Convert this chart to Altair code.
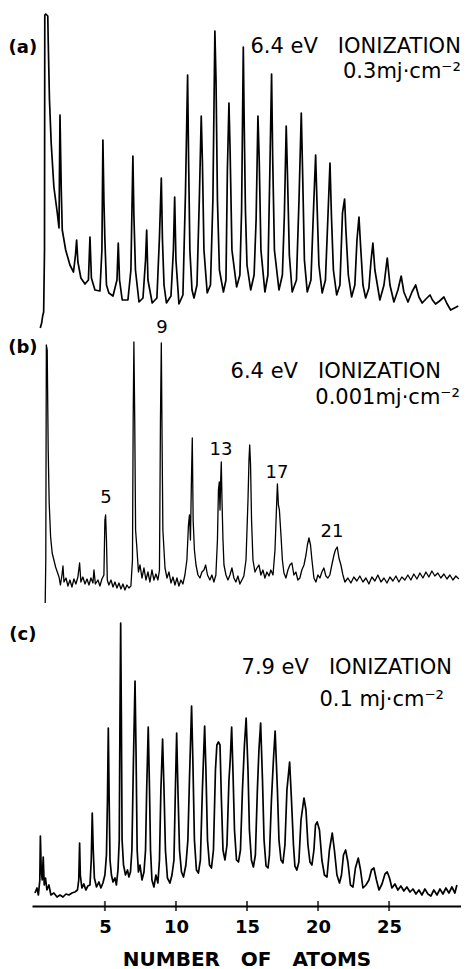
import altair as alt
import pandas as pd

# x axis: number of atoms (shared by the three panels)
X_MIN, X_MAX = -0.13, 30.06
TICKS = [5, 10, 15, 20, 25]

# ---------- panel (a): 6.4 eV, 0.3 mJ/cm2  (n, signal) ----------
A_TRACE = [
    (0.45, 2), (0.55, 7), (0.62, 14), (0.69, 18), (0.75, 80), (0.77, 315), (0.84, 316), (0.98, 314),
    (1.01, 290), (1.10, 230), (1.22, 187), (1.41, 143), (1.65, 117), (1.77, 102), (1.80, 150), (1.84, 215),
    (1.89, 173), (1.93, 140), (2.00, 100), (2.24, 80), (2.54, 65), (2.79, 58), (2.93, 75), (3.01, 90),
    (3.10, 68), (3.31, 52), (3.60, 46), (3.84, 50), (3.95, 93), (4.05, 52), (4.30, 40), (4.65, 39),
    (4.79, 80), (4.86, 190), (4.93, 130), (5.00, 90), (5.11, 45), (5.28, 37), (5.57, 34), (5.85, 50),
    (5.94, 87), (6.03, 50), (6.22, 30), (6.62, 30), (6.83, 60), (6.97, 174), (7.04, 115), (7.15, 60),
    (7.40, 28), (7.68, 32), (7.86, 70), (7.94, 100), (8.03, 50), (8.33, 27), (8.66, 32), (8.84, 93),
    (8.97, 152), (9.05, 90), (9.16, 45), (9.33, 27), (9.65, 34), (9.82, 80), (9.91, 133), (10.00, 70),
    (10.21, 26), (10.49, 35), (10.67, 137), (10.82, 255), (10.89, 170), (10.98, 80), (11.13, 40), (11.27, 32),
    (11.48, 45), (11.65, 133), (11.78, 214), (11.86, 170), (11.97, 80), (12.20, 37), (12.43, 45), (12.60, 130),
    (12.74, 299), (12.82, 250), (12.92, 130), (13.06, 60), (13.34, 38), (13.52, 50), (13.62, 160), (13.73, 227),
    (13.81, 180), (13.94, 80), (14.27, 43), (14.50, 55), (14.62, 120), (14.74, 283), (14.80, 210), (14.89, 120),
    (15.00, 65), (15.26, 40), (15.50, 55), (15.64, 110), (15.77, 214), (15.86, 170), (15.98, 80), (16.26, 38),
    (16.47, 55), (16.61, 160), (16.73, 256), (16.81, 170), (16.93, 80), (17.25, 40), (17.49, 55), (17.63, 115),
    (17.76, 204), (17.84, 160), (17.98, 75), (18.18, 38), (18.48, 50), (18.66, 130), (18.82, 217), (18.91, 160),
    (19.04, 70), (19.24, 38), (19.50, 50), (19.68, 120), (19.83, 175), (19.92, 130), (20.06, 65), (20.29, 37),
    (20.52, 50), (20.70, 115), (20.84, 167), (20.94, 115), (21.08, 60), (21.31, 35), (21.54, 45), (21.72, 117),
    (21.87, 131), (21.96, 100), (22.13, 55), (22.36, 33), (22.59, 45), (22.74, 90), (22.88, 113), (22.99, 85),
    (23.16, 45), (23.35, 32), (23.58, 42), (23.72, 68), (23.86, 87), (24.00, 60), (24.35, 30), (24.64, 45),
    (24.87, 72), (25.06, 45), (25.34, 28), (25.62, 40), (25.85, 54), (26.04, 38), (26.33, 28), (26.61, 38),
    (26.87, 45), (27.10, 33), (27.33, 27), (27.59, 31), (27.88, 35), (28.05, 30), (28.27, 26), (28.55, 29),
    (28.86, 33), (29.05, 27), (29.33, 20), (29.60, 22), (29.87, 24),
]

# ---------- panel (b): 6.4 eV, 0.001 mJ/cm2 ----------
B_TRACE = [
    (0.80, 7), (0.84, 50), (0.88, 265), (0.94, 260), (1.01, 160), (1.08, 107), (1.18, 73), (1.29, 57),
    (1.53, 43), (1.77, 33), (1.87, 25), (1.98, 35), (2.05, 44), (2.12, 28), (2.26, 32), (2.40, 24),
    (2.54, 30), (2.68, 23), (2.82, 31), (2.96, 26), (3.10, 33), (3.22, 47), (3.31, 28), (3.45, 33),
    (3.60, 26), (3.74, 31), (3.88, 25), (4.02, 32), (4.16, 27), (4.23, 40), (4.33, 26), (4.51, 30),
    (4.65, 24), (4.79, 31), (4.93, 35), (5.00, 90), (5.05, 95), (5.11, 70), (5.17, 30), (5.28, 25),
    (5.43, 30), (5.57, 23), (5.71, 28), (5.85, 22), (5.99, 27), (6.13, 21), (6.27, 26), (6.41, 20),
    (6.55, 25), (6.69, 22), (6.83, 24), (6.94, 50), (6.99, 190), (7.04, 268), (7.10, 190), (7.16, 80),
    (7.26, 60), (7.36, 38), (7.47, 45), (7.61, 32), (7.75, 42), (7.89, 30), (8.03, 38), (8.17, 28),
    (8.31, 40), (8.45, 30), (8.59, 36), (8.73, 30), (8.84, 40), (8.91, 190), (8.97, 267), (9.03, 160),
    (9.08, 80), (9.23, 42), (9.37, 32), (9.51, 38), (9.65, 27), (9.79, 33), (9.93, 25), (10.07, 32),
    (10.21, 24), (10.35, 30), (10.49, 26), (10.63, 35), (10.77, 50), (10.88, 85), (10.95, 95), (11.02, 70),
    (11.09, 130), (11.15, 172), (11.21, 90), (11.30, 60), (11.41, 45), (11.55, 35), (11.69, 32), (11.83, 38),
    (11.97, 40), (12.09, 45), (12.22, 35), (12.39, 30), (12.53, 35), (12.67, 28), (12.81, 35), (12.92, 70),
    (12.99, 120), (13.05, 128), (13.10, 100), (13.15, 130), (13.19, 148), (13.24, 110), (13.31, 70), (13.38, 45),
    (13.52, 35), (13.66, 30), (13.80, 35), (13.94, 42), (14.08, 32), (14.22, 28), (14.36, 34), (14.50, 26),
    (14.64, 30), (14.78, 34), (14.93, 50), (15.07, 110), (15.14, 150), (15.19, 165), (15.25, 145), (15.32, 90),
    (15.42, 50), (15.56, 38), (15.70, 42), (15.84, 45), (15.98, 35), (16.12, 40), (16.26, 32), (16.40, 38),
    (16.55, 34), (16.68, 40), (16.83, 35), (16.97, 60), (17.07, 100), (17.14, 126), (17.21, 105), (17.28, 100),
    (17.39, 75), (17.49, 50), (17.60, 37), (17.74, 32), (17.88, 40), (18.02, 45), (18.16, 47), (18.30, 35),
    (18.44, 38), (18.58, 30), (18.72, 32), (18.86, 40), (19.01, 45), (19.15, 55), (19.25, 65), (19.36, 72),
    (19.47, 65), (19.57, 50), (19.71, 32), (19.85, 28), (19.99, 35), (20.13, 32), (20.27, 38), (20.41, 42),
    (20.55, 34), (20.69, 32), (20.83, 35), (20.97, 45), (21.12, 55), (21.22, 60), (21.35, 63), (21.47, 52),
    (21.61, 45), (21.75, 35), (21.89, 28), (22.10, 32), (22.31, 27), (22.52, 33), (22.73, 29), (22.94, 34),
    (23.16, 28), (23.37, 32), (23.58, 26), (23.79, 33), (24.00, 29), (24.21, 35), (24.43, 28), (24.64, 32),
    (24.85, 27), (25.06, 33), (25.27, 29), (25.48, 34), (25.69, 28), (25.90, 33), (26.11, 30), (26.32, 35),
    (26.53, 30), (26.74, 36), (26.96, 31), (27.17, 37), (27.38, 32), (27.59, 38), (27.80, 33), (28.01, 39),
    (28.22, 34), (28.43, 37), (28.64, 32), (28.86, 36), (29.07, 31), (29.28, 35), (29.49, 30), (29.70, 34),
    (29.91, 31),
]

# ---------- panel (c): 7.9 eV, 0.1 mJ/cm2 ----------
C_TRACE = [
    (0.08, 13), (0.22, 18), (0.32, 11), (0.42, 26), (0.46, 70), (0.52, 36), (0.59, 26), (0.66, 49),
    (0.73, 21), (0.82, 28), (0.92, 16), (1.06, 21), (1.20, 11), (1.41, 13), (1.63, 9), (1.84, 11),
    (2.05, 9), (2.26, 12), (2.47, 11), (2.68, 13), (2.89, 14), (3.07, 16), (3.16, 26), (3.22, 63),
    (3.27, 31), (3.38, 18), (3.52, 22), (3.66, 16), (3.80, 20), (3.95, 21), (4.04, 46), (4.11, 93),
    (4.18, 56), (4.26, 28), (4.41, 19), (4.58, 24), (4.72, 18), (4.86, 23), (5.00, 31), (5.11, 51),
    (5.18, 106), (5.24, 178), (5.30, 106), (5.36, 46), (5.46, 31), (5.57, 24), (5.71, 28), (5.81, 21),
    (5.92, 36), (6.01, 66), (6.06, 186), (6.11, 283), (6.16, 186), (6.21, 66), (6.31, 41), (6.45, 31),
    (6.59, 36), (6.69, 29), (6.80, 34), (6.90, 56), (7.01, 146), (7.12, 225), (7.19, 156), (7.27, 56),
    (7.36, 34), (7.47, 41), (7.61, 26), (7.75, 34), (7.86, 56), (7.94, 116), (8.05, 179), (8.14, 116),
    (8.21, 56), (8.31, 26), (8.45, 19), (8.59, 31), (8.73, 23), (8.84, 46), (8.94, 116), (9.06, 167),
    (9.16, 116), (9.26, 56), (9.40, 28), (9.58, 23), (9.72, 31), (9.86, 46), (9.96, 116), (10.05, 173),
    (10.14, 116), (10.25, 56), (10.39, 34), (10.53, 29), (10.70, 41), (10.84, 66), (10.95, 126), (11.10, 200),
    (11.19, 146), (11.30, 66), (11.44, 36), (11.58, 33), (11.72, 46), (11.86, 116), (12.02, 180), (12.11, 136),
    (12.22, 66), (12.36, 41), (12.50, 38), (12.64, 56), (12.78, 136), (12.88, 161), (12.99, 164), (13.10, 161),
    (13.20, 106), (13.31, 56), (13.45, 46), (13.59, 61), (13.73, 126), (13.82, 146), (13.92, 179), (14.01, 136),
    (14.12, 76), (14.26, 46), (14.40, 44), (14.54, 56), (14.68, 116), (14.82, 161), (14.94, 188), (15.07, 136),
    (15.17, 76), (15.31, 46), (15.45, 39), (15.59, 51), (15.73, 116), (15.84, 156), (15.96, 183), (16.09, 126),
    (16.20, 66), (16.34, 40), (16.48, 38), (16.58, 51), (16.72, 106), (16.86, 146), (16.98, 175), (17.14, 116),
    (17.25, 66), (17.39, 46), (17.53, 43), (17.67, 61), (17.81, 116), (18.00, 144), (18.13, 106), (18.27, 61),
    (18.37, 40), (18.51, 36), (18.65, 44), (18.80, 86), (19.01, 108), (19.15, 96), (19.29, 61), (19.43, 44),
    (19.57, 41), (19.71, 56), (19.82, 81), (19.94, 84), (20.10, 76), (20.27, 46), (20.45, 31), (20.63, 29),
    (20.80, 56), (21.00, 73), (21.15, 56), (21.33, 31), (21.51, 23), (21.65, 31), (21.79, 51), (21.94, 56),
    (22.10, 44), (22.28, 21), (22.46, 19), (22.63, 38), (22.83, 48), (22.99, 36), (23.16, 18), (23.37, 21),
    (23.58, 26), (23.76, 36), (23.93, 38), (24.11, 26), (24.29, 16), (24.50, 22), (24.71, 32), (24.87, 34),
    (25.03, 28), (25.20, 18), (25.41, 22), (25.62, 16), (25.83, 20), (26.04, 15), (26.25, 19), (26.47, 14),
    (26.68, 17), (26.89, 12), (27.10, 16), (27.31, 11), (27.52, 17), (27.73, 12), (27.94, 10), (28.15, 16),
    (28.37, 11), (28.58, 17), (28.79, 12), (29.00, 18), (29.21, 13), (29.42, 19), (29.63, 13), (29.77, 21),
]

# ---------- annotation texts (n, signal, text, font size) ----------
A_HEAD = [(30.05, 283, "6.4 eV \u00a0\u00a0IONIZATION", 21), (30.05, 258, "0.3mj·cm⁻²", 21)]
B_HEAD = [(28.65, 238, "6.4 eV \u00a0\u00a0IONIZATION", 21), (29.98, 212, "0.001mj·cm⁻²", 21)]
C_HEAD = [(29.42, 238, "7.9 eV \u00a0\u00a0IONIZATION", 21), (28.86, 206, "0.1 mj·cm⁻²", 21)]
PANEL_TAGS = ["(a)", "(b)", "(c)"]
TAG_POS = [(-0.77, 282), (-0.77, 262), (-0.77, 271)]
B_PEAK_LABELS = [(5.07, 112, "5"), (9.01, 282, "9"), (13.17, 160, "13"), (17.11, 137, "17"), (20.98, 78, "21")]

PANEL_H = [322, 280, 296]
PLOT_W = 429
FONT = "DejaVu Sans"


def make_panel(trace, head, tag, tag_pos, h, stroke_w, peak_labels=None, bottom=False):
    xscale = alt.Scale(domain=[X_MIN, X_MAX], nice=False, zero=False)
    yscale = alt.Scale(domain=[0, h], nice=False, zero=False)
    if bottom:
        xaxis = alt.Axis(values=TICKS, ticks=False, grid=False, domainColor="black", domainWidth=2,
                         labelFont=FONT, labelFontSize=18, labelColor="black", labelPadding=12,
                         labelFontWeight="bold", title="NUMBER\u00a0\u00a0 OF\u00a0\u00a0 ATOMS", titleFont=FONT,
                         titleFontSize=20, titleFontWeight="bold", titleColor="black", titlePadding=13)
    else:
        xaxis = None
    df = pd.DataFrame(trace, columns=["n", "s"])
    df["i"] = range(len(df))
    line = alt.Chart(df).mark_line(color="black", strokeWidth=stroke_w, strokeJoin="round").encode(
        x=alt.X("n:Q", scale=xscale, axis=xaxis),
        y=alt.Y("s:Q", scale=yscale, axis=None),
        order="i:Q",
    )
    hdf = pd.DataFrame(head, columns=["n", "s", "t", "fs"])
    heads = alt.Chart(hdf).mark_text(align="right", baseline="middle", font=FONT, color="black").encode(
        x=alt.X("n:Q", scale=xscale, axis=xaxis),
        y=alt.Y("s:Q", scale=yscale, axis=None),
        text="t:N",
        size=alt.Size("fs:Q", scale=None),
    )
    tdf = pd.DataFrame([(tag_pos[0], tag_pos[1], tag)], columns=["n", "s", "t"])
    tags = alt.Chart(tdf).mark_text(align="center", baseline="middle", font=FONT, fontSize=18,
                                    fontWeight="bold", color="black").encode(
        x=alt.X("n:Q", scale=xscale, axis=xaxis),
        y=alt.Y("s:Q", scale=yscale, axis=None),
        text="t:N",
    )
    layers = [line, heads, tags]
    if peak_labels:
        pdf = pd.DataFrame(peak_labels, columns=["n", "s", "t"])
        layers.append(alt.Chart(pdf).mark_text(align="center", baseline="middle", font=FONT, fontSize=18,
                                               color="black").encode(
            x=alt.X("n:Q", scale=xscale, axis=xaxis),
            y=alt.Y("s:Q", scale=yscale, axis=None),
            text="t:N",
        ))
    if bottom:
        kdf = pd.DataFrame({"n": TICKS, "s": [0] * len(TICKS)})
        layers.append(alt.Chart(kdf).mark_tick(orient="vertical", color="black", size=10, thickness=2).encode(
            x=alt.X("n:Q", scale=xscale, axis=xaxis),
            y=alt.Y("s:Q", scale=yscale, axis=None),
        ))
    return alt.layer(*layers).properties(width=PLOT_W, height=h)


pa = make_panel(A_TRACE, A_HEAD, PANEL_TAGS[0], TAG_POS[0], PANEL_H[0], 1.7)
pb = make_panel(B_TRACE, B_HEAD, PANEL_TAGS[1], TAG_POS[1], PANEL_H[1], 1.3, peak_labels=B_PEAK_LABELS)
pc = make_panel(C_TRACE, C_HEAD, PANEL_TAGS[2], TAG_POS[2], PANEL_H[2], 1.7, bottom=True)

chart = alt.vconcat(pa, pb, pc, spacing=0, bounds="flush").properties(
    padding={"left": 0, "top": 0, "right": 0, "bottom": 0},
    background="white",
).configure_view(stroke=None)

chart.save("out.html", embed_options={"renderer": "svg", "actions": False})
